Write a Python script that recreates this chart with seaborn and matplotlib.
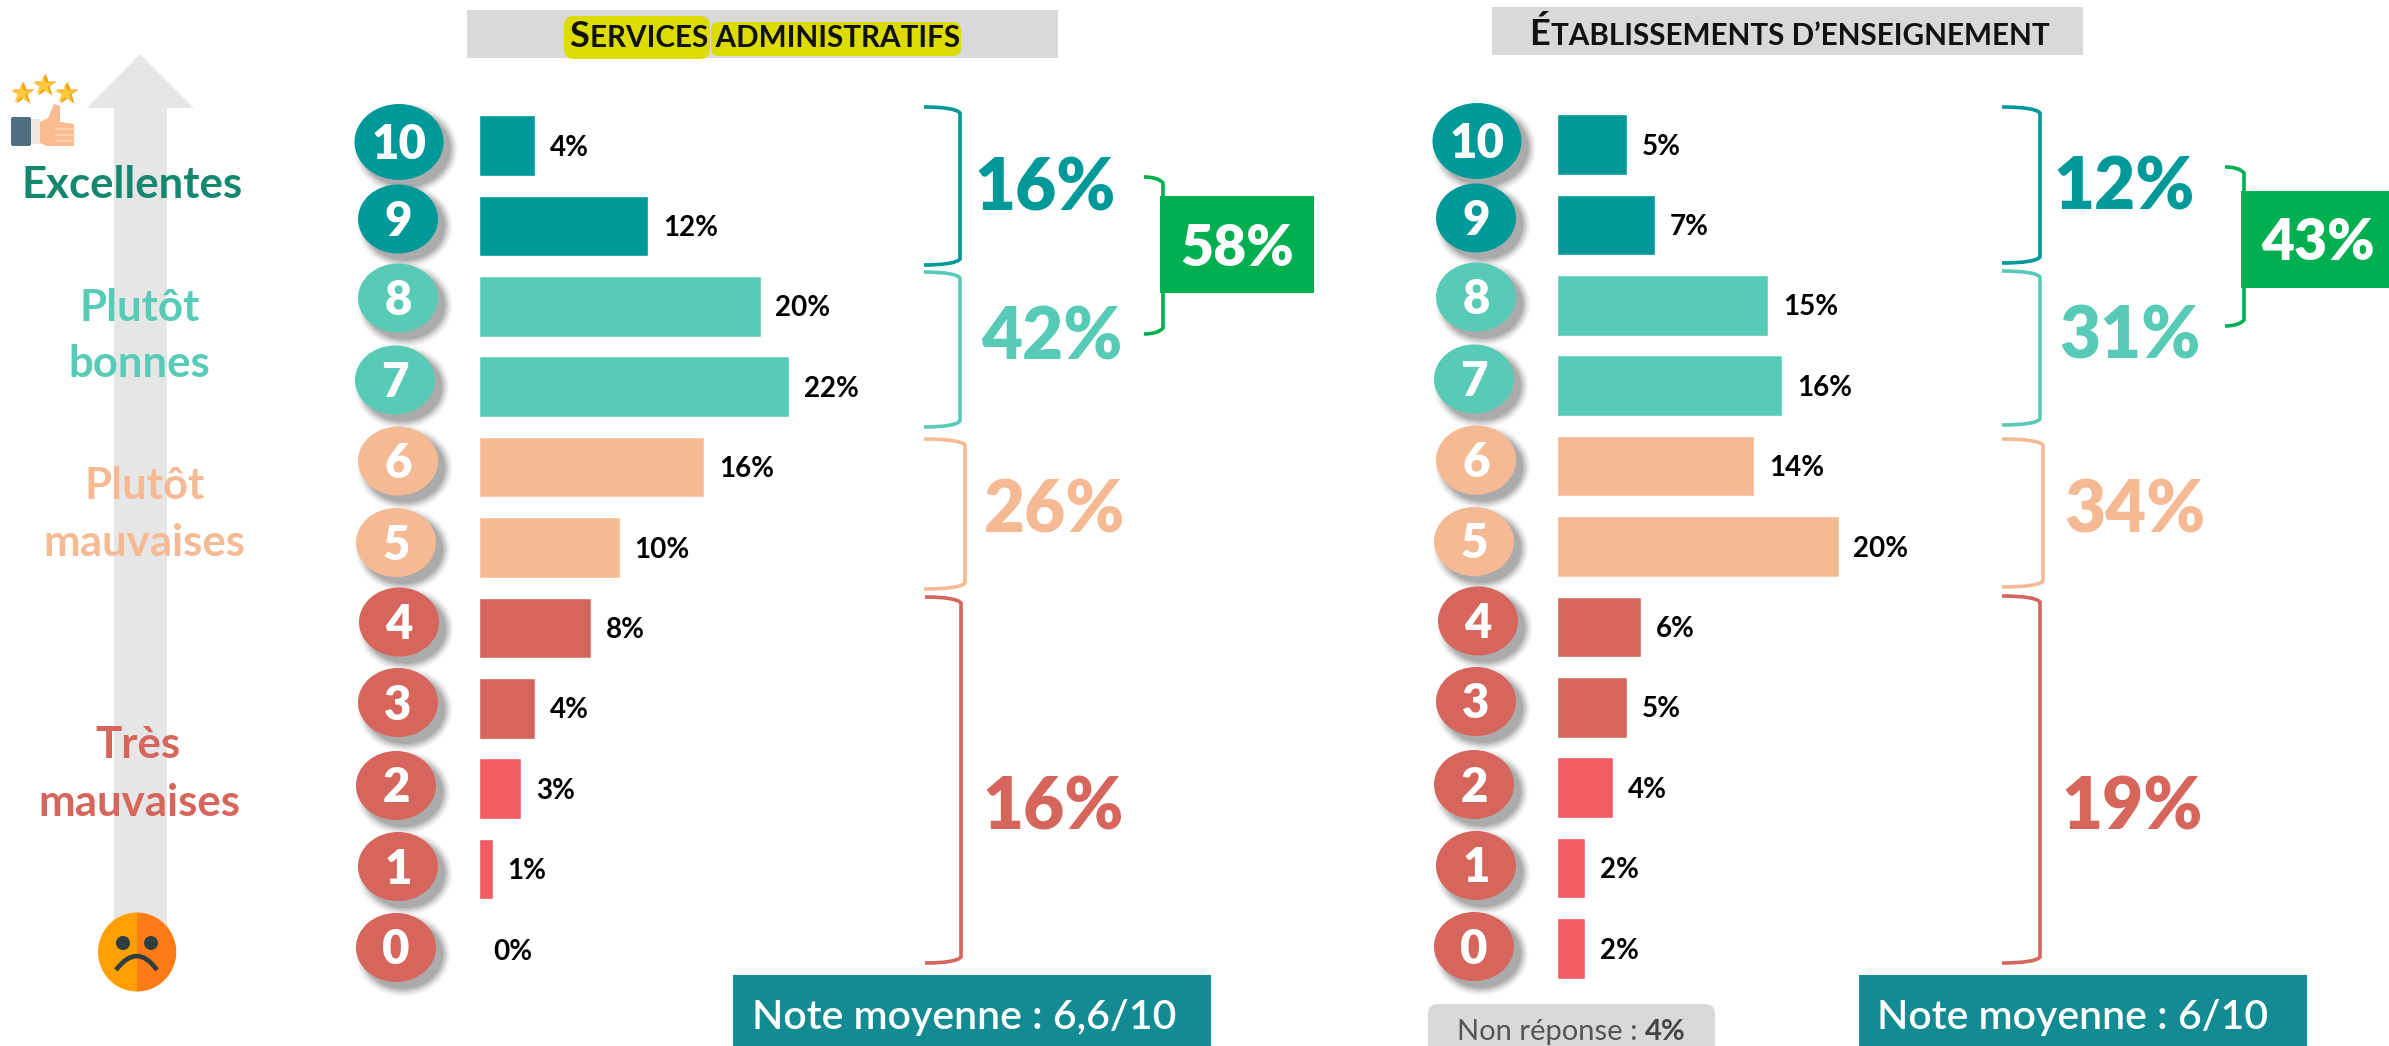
import matplotlib
matplotlib.use("Agg")
import matplotlib.pyplot as plt
import pandas as pd
import seaborn as sns
from matplotlib.patches import Ellipse, FancyBboxPatch, PathPatch, Polygon, Rectangle, Wedge
from matplotlib.path import Path

# donnees
notes = ['10', '9', '8', '7', '6', '5', '4', '3', '2', '1', '0']
services = [4, 12, 20, 22, 16, 10, 8, 4, 3, 1, 0]
etablissements = [5, 7, 15, 16, 14, 20, 6, 5, 4, 2, 2]
groupes_services = ['16%', '42%', '26%', '16%']
groupes_etabl = ['12%', '31%', '34%', '19%']
total_services = '58%'
total_etabl = '43%'
note_services = 'Note moyenne : 6,6/10'
note_etabl = 'Note moyenne : 6/10'

TEAL = '#009999'
MINT = '#57CBB6'
PEACH = '#F5BA94'
RED = '#D6655B'
RED2 = '#F05C62'
GREEN = '#00B050'
DARKTEAL = '#128C92'
GREY = '#D9D9D9'
couleurs_barres = [TEAL, TEAL, MINT, MINT, PEACH, PEACH, RED, RED, RED2, RED2, RED2]
couleurs_badges = [TEAL, TEAL, MINT, MINT, PEACH, PEACH, RED, RED, RED, RED, RED]
couleurs_groupes = [TEAL, MINT, PEACH, RED]

W, H = 2389, 1046
PAS = 80.4  # hauteur d'une ligne en pixels
ECHELLE = 14.1  # pixels pour 1 %
sns.set_theme(style='white')
plt.rcParams['font.family'] = ['Lato', 'DejaVu Sans']

fig = plt.figure(figsize=(W / 100, H / 100), dpi=100)
fig.patch.set_facecolor('white')

# calque en pixels pour tout ce qui n'est pas une barre
pix = fig.add_axes([0, 0, 1, 1])
pix.set_xlim(0, W)
pix.set_ylim(H, 0)
pix.axis('off')


def txt(x, yc, s, size, color='black', weight='bold', ha='center'):
    # yc = milieu des majuscules, plus stable que va='center'
    return pix.text(x, yc + 0.36 * size / 0.72, s, fontsize=size, color=color,
                    fontweight=weight, ha=ha, va='baseline', zorder=6)


def barres(valeurs, x0, y_top):
    ax = fig.add_axes([x0 / W, 1 - (y_top + 11 * PAS) / H, ECHELLE * 30 / W, 11 * PAS / H])
    df = pd.DataFrame({'note': notes, 'pct': valeurs})
    sns.barplot(data=df, y='note', x='pct', hue='note', order=notes, hue_order=notes,
                palette=couleurs_barres, dodge=False, legend=False, width=0.755,
                saturation=1, ax=ax)
    for c in ax.containers:
        for t in ax.bar_label(c, fmt='%.0f%%', padding=10.8, fontsize=20, fontweight='bold', color='black'):
            t.xyann = (t.xyann[0], -1.5)
    ax.set_xlim(0, 30)
    ax.set_ylim(10.5, -0.5)
    ax.patch.set_alpha(0)
    ax.axis('off')
    return ax


def accolade(x0, x1, y0, y1, color, lw=2.6):
    verts = [(x0, y0), (x1 - 5, y0), (x1, y0 + 6), (x1, y1 - 6), (x1 - 5, y1), (x0, y1)]
    codes = [Path.MOVETO, Path.CURVE3, Path.CURVE3, Path.LINETO, Path.CURVE3, Path.CURVE3]
    pix.add_patch(PathPatch(Path(verts, codes), fc='none', ec=color, lw=lw, capstyle='butt', zorder=3))


def badge(x, y, w, h, s, color):
    # ombre floue faite de plusieurs ellipses
    for k, a in zip([15, 12, 9, 6, 3, 0], [0.04, 0.06, 0.08, 0.10, 0.12, 0.14]):
        pix.add_patch(Ellipse((x + 7, y + 7), w + k, h + k, fc='#444444', ec='none', alpha=a, zorder=2))
    pix.add_patch(Ellipse((x, y), w, h, fc=color, ec='none', zorder=3))
    txt(x, y, s, 34, color='white', weight='heavy')


def titre(x, baseline, grande, reste, color='#111111'):
    t = pix.text(x, baseline, grande, fontsize=26, fontweight='bold', color=color, va='baseline', zorder=6)
    fig.canvas.draw()
    bb = t.get_window_extent().transformed(pix.transData.inverted())
    pix.text(bb.x1 + 1, baseline, reste, fontsize=21.3, fontweight='bold', color=color, va='baseline', zorder=6)


barres(services, 478.5, 105.3)
barres(etablissements, 1556.5, 104.3)

# titres
pix.add_patch(Rectangle((467, 10), 591, 48, fc=GREY, ec='none'))
pix.add_patch(FancyBboxPatch((570, 22), 134, 31, boxstyle='round,pad=6,rounding_size=10', fc='#DCDC00', ec='none', zorder=2))
pix.add_patch(FancyBboxPatch((716, 27), 240, 24, boxstyle='round,pad=5,rounding_size=8', fc='#DCDC00', ec='none', zorder=2))
titre(569, 47, 'S', 'ERVICES ADMINISTRATIFS')
pix.add_patch(Rectangle((1492, 7), 591, 48, fc=GREY, ec='none'))
titre(1529, 45, 'É', 'TABLISSEMENTS D’ENSEIGNEMENT')

# badges
xs_g = [399, 398, 398, 395, 398, 396, 399, 398, 396, 398, 396]
ys_g = [142, 219, 298, 380, 461, 542.5, 622, 702.5, 785.5, 866.5, 947.5]
xs_d = [1477, 1476, 1476, 1474, 1476, 1474, 1478, 1476, 1474, 1476, 1474]
ys_d = [141, 218, 297, 379, 460, 541.5, 621, 701.5, 784.5, 865.5, 946.5]
for i, n in enumerate(notes):
    w, h = (89, 76) if n == '10' else (80, 69)
    badge(xs_g[i], ys_g[i], w, h, n, couleurs_badges[i])
    badge(xs_d[i], ys_d[i], w, h, n, couleurs_badges[i])

# accolades
acc_g = [(924, 960, 107, 265), (924, 960, 272, 427), (924, 965, 439, 589), (925, 961, 597, 963)]
acc_d = [(2002, 2040, 107, 263), (2002, 2040, 271, 425), (2002, 2043, 439, 587), (2002, 2040, 596, 963)]
pos_g = [(1045, 185), (1052, 334), (1055, 507), (1053, 804)]
pos_d = [(2124, 184), (2130, 333), (2135, 507), (2132, 804)]
for i in range(4):
    accolade(*acc_g[i], couleurs_groupes[i])
    accolade(*acc_d[i], couleurs_groupes[i])
    txt(*pos_g[i], groupes_services[i], 51, color=couleurs_groupes[i], weight='heavy')
    txt(*pos_d[i], groupes_etabl[i], 51, color=couleurs_groupes[i], weight='heavy')

# totaux en vert
accolade(1144, 1163, 177, 334, GREEN)
pix.add_patch(Rectangle((1160, 196), 154, 97, fc=GREEN, ec='none', zorder=4))
txt(1237, 245, total_services, 41, color='white', weight='heavy')
accolade(2225, 2244, 167, 326, GREEN)
pix.add_patch(Rectangle((2241, 191), 148, 97, fc=GREEN, ec='none', zorder=4))
txt(2318, 240, total_etabl, 41, color='white', weight='heavy')

# notes moyennes
pix.add_patch(Rectangle((733, 975), 478, 71, fc=DARKTEAL, ec='none'))
txt(964, 1014, note_services, 29.5, color='white', weight='semibold')
pix.add_patch(Rectangle((1859, 975), 448, 71, fc=DARKTEAL, ec='none'))
txt(2073, 1014, note_etabl, 29.5, color='white', weight='semibold')

# non reponse
pix.add_patch(FancyBboxPatch((1438, 1014), 267, 50, boxstyle='round,pad=10,rounding_size=10', fc=GREY, ec='none'))
t_nr = pix.text(1457, 1040, 'Non réponse : ', fontsize=21, color='#555555', va='baseline', zorder=6)
fig.canvas.draw()
bb_nr = t_nr.get_window_extent().transformed(pix.transData.inverted())
pix.text(bb_nr.x1, 1040, '4%', fontsize=21, fontweight='bold', color='#444444', va='baseline', zorder=6)

# fleche grise
pix.add_patch(Polygon([(140, 54), (194, 108), (167, 108), (167, 960), (114, 960), (114, 108), (87, 108)],
                      closed=True, fc='#E6E6E6', ec='none', zorder=0))

# libelles de gauche
txt(132, 182, 'Excellentes', 31.5, color='#14876F')
txt(140, 305, 'Plutôt', 31.5, color=MINT)
txt(139, 361, 'bonnes', 31.5, color=MINT)
txt(145, 483, 'Plutôt', 31.5, color=PEACH)
txt(144, 540, 'mauvaises', 31.5, color=PEACH)
txt(138, 742, 'Très', 31.5, color=RED)
txt(139, 800, 'mauvaises', 31.5, color=RED)

# pictogramme pouce et etoiles
for x, y in [(22, 93), (44, 85), (66, 93)]:
    pix.plot([x + 1], [y], marker='*', ms=17, color='#F59E0B', mec='none', zorder=5)
    pix.plot([x - 1], [y], marker='*', ms=16, color='#FFCB3D', mec='none', zorder=5)
pix.add_patch(FancyBboxPatch((12, 118), 18, 27, boxstyle='round,pad=1,rounding_size=2', fc='#4F6E80', ec='none', zorder=5))
pix.add_patch(Rectangle((31, 119), 9, 25, fc='#EFE6E2', ec='none', zorder=5))
pix.add_patch(Polygon([(40, 122), (48, 118), (54, 104), (60, 106), (60, 122), (74, 124), (74, 146), (46, 146), (40, 143)],
                      closed=True, fc='#F9BB8F', ec='none', zorder=5))
for y in [129, 135, 141]:
    pix.plot([56, 74], [y, y], color='#FFD2AE', lw=1.5, zorder=6)

# smiley triste
pix.add_patch(Ellipse((137, 952), 78, 79, fc='#FF9F00', ec='none', zorder=5))
pix.add_patch(Wedge((137, 952), 39.2, -90, 90, fc='#FF7B15', ec='none', zorder=5))
for x in [123, 151]:
    pix.add_patch(Ellipse((x, 943), 14, 14, fc='#2F3E3E', ec='none', zorder=6))
pix.add_patch(PathPatch(Path([(116, 970), (137, 942), (157, 970)], [Path.MOVETO, Path.CURVE3, Path.CURVE3]),
                        fc='none', ec='#2F3E3E', lw=3.4, zorder=6))

fig.savefig('out.png', dpi=100)
